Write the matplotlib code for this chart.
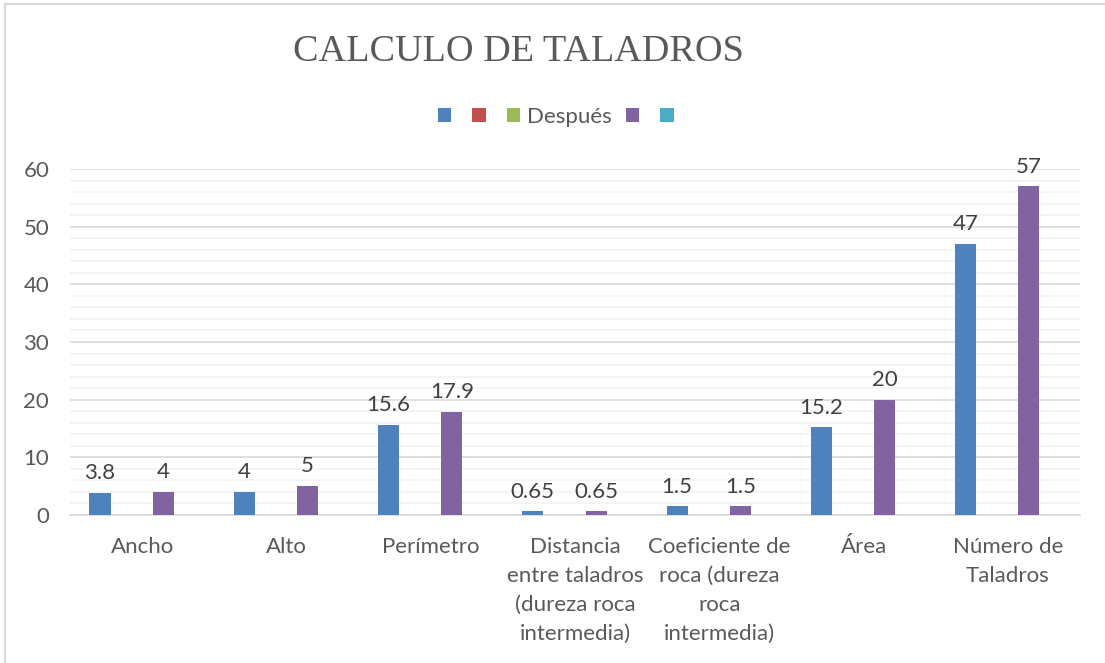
import numpy as np
import matplotlib
matplotlib.use("Agg")
import matplotlib.pyplot as plt
from matplotlib.patches import Patch, Rectangle

categories = [
    "Ancho",
    "Alto",
    "Perímetro",
    "Distancia\nentre taladros\n(dureza roca\nintermedia)",
    "Coeficiente de\nroca (dureza\nroca\nintermedia)",
    "Área",
    "Número de\nTaladros",
]
serie1 = [3.8, 4, 15.6, 0.65, 1.5, 15.2, 47]
serie4 = [4, 5, 17.9, 0.65, 1.5, 20, 57]
serie1_labels = ["3.8", "4", "15.6", "0.65", "1.5", "15.2", "47"]
serie4_labels = ["4", "5", "17.9", "0.65", "1.5", "20", "57"]
legend_labels = ["", "", "Después", "", ""]
colors = ["#4F81BD", "#C0504D", "#9BBB59", "#8064A2", "#4BACC6"]

text_color = "#595959"
plt.rcParams["font.family"] = ["Lato", "DejaVu Sans"]

fig = plt.figure(figsize=(11.05, 6.63), dpi=100)
ax = fig.add_axes([70 / 1105, 1 - 515 / 663, 1010 / 1105, 346 / 663])

# light frame around the chart area (Excel style)
fig.patches.append(Rectangle((5 / 1105, -0.05), 1.2, 1 - 4 / 663 + 0.05,
                             transform=fig.transFigure, fill=False,
                             edgecolor="#D9D9D9", linewidth=1.5))

x = np.arange(len(categories))
w = 0.146
b1 = ax.bar(x - 2 * w, serie1, w, color=colors[0], zorder=3)
b4 = ax.bar(x + 1 * w, serie4, w, color=colors[3], zorder=3)

for bars, labs in [(b1, serie1_labels), (b4, serie4_labels)]:
    for bar, lab in zip(bars, labs):
        ax.annotate(lab, (bar.get_x() + bar.get_width() / 2, bar.get_height()),
                    xytext=(0, 7), textcoords="offset points",
                    ha="center", va="bottom", fontsize=16, color="#404040")

ax.set_xlim(-0.5, len(categories) - 0.5)
ax.set_ylim(0, 60)
ax.set_yticks(np.arange(0, 61, 10))
ax.set_yticks(np.arange(0, 61, 2), minor=True)
ax.grid(axis="y", which="major", color="#D9D9D9", linewidth=1.2, zorder=0)
ax.grid(axis="y", which="minor", color="#F2F2F2", linewidth=1.2, zorder=0)
ax.set_axisbelow(True)

ax.set_xticks(x)
ax.set_xticklabels(categories, fontsize=16, color=text_color, linespacing=1.55)
ax.tick_params(axis="x", length=0, pad=16)
ax.tick_params(axis="y", which="both", length=0, labelsize=16,
               labelcolor=text_color, pad=15)

for s in ["top", "right", "left"]:
    ax.spines[s].set_visible(False)
ax.spines["bottom"].set_color("#D9D9D9")
ax.spines["bottom"].set_linewidth(1.2)

fig.text(0.4695, 1 - 52 / 663, "CALCULO DE TALADROS", ha="center", va="center",
         fontsize=27.5, color=text_color, family=["Liberation Serif", "DejaVu Serif"])

handles = [Patch(facecolor=c) for c in colors]
fig.legend(handles, legend_labels, loc="center", ncol=5,
           bbox_to_anchor=(559 / 1105, 1 - 117 / 663), frameon=False,
           fontsize=16, labelcolor=text_color, handlelength=0.6,
           handleheight=0.6, handletextpad=0.3, columnspacing=0.65)

fig.savefig("out.png", dpi=100, facecolor="white")
